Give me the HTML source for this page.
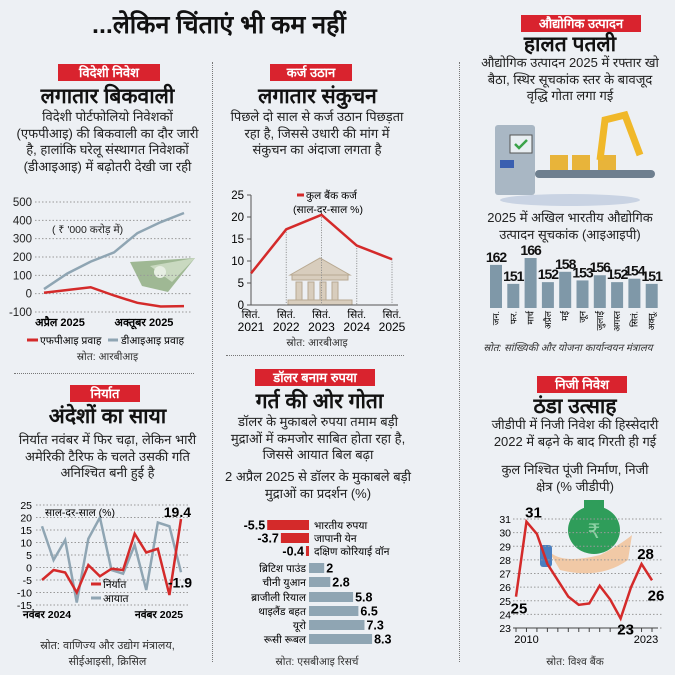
<!DOCTYPE html>
<html><head><meta charset="utf-8">
<style>
body{margin:0;width:675px;height:675px;overflow:hidden;background:#edf0f4;font-family:"Liberation Sans","Noto Sans CJK SC",sans-serif;color:#222;position:relative}
.a{position:absolute}
.tag{position:absolute;background:#d9232e;color:#fff;font-weight:bold;font-size:13px;text-align:center;line-height:17px;height:17px}
.h{position:absolute;font-weight:900;font-size:21px;text-align:center;color:#111;line-height:22px;white-space:nowrap}
.b{position:absolute;font-size:13px;text-align:center;line-height:16.5px;color:#222;white-space:nowrap}
.src{position:absolute;font-size:10.5px;text-align:center;color:#333;white-space:nowrap}
svg{position:absolute;left:0;top:0}
svg text{font-family:"Liberation Sans","Noto Sans CJK SC",sans-serif}
</style></head><body>
<div class="a" style="left:92px;top:7px;font-size:25px;font-weight:900;color:#111;white-space:nowrap">...लेकिन चिंताएं भी कम नहीं</div>

<div class="a" style="left:212px;top:62px;height:600px;border-left:1.5px dotted #777"></div>
<div class="a" style="left:459px;top:62px;height:600px;border-left:1.5px dotted #777"></div>
<div class="a" style="left:14px;top:373px;width:180px;border-top:1.5px dotted #777"></div>
<div class="a" style="left:226px;top:355px;width:178px;border-top:1.5px dotted #777"></div>

<!-- Panel 1 -->
<div class="tag" style="left:58px;top:64px;width:102px">विदेशी निवेश</div>
<div class="h" style="left:5px;top:86px;width:205px">लगातार बिकवाली</div>
<div class="b" style="left:5px;top:109px;width:205px">विदेशी पोर्टफोलियो निवेशकों<br>(एफपीआइ) की बिकवाली का दौर जारी<br>है, हालांकि घरेलू संस्थागत निवेशकों<br>(डीआइआइ) में बढ़ोतरी देखी जा रही</div>
<div class="a" style="left:52px;top:223px;font-size:10.5px">( ₹ '000 करोड़ में)</div>
<div class="src" style="left:5px;top:350px;width:205px">स्रोत: आरबीआइ</div>

<!-- Panel 2 -->
<div class="tag" style="left:270px;top:64px;width:82px">कर्ज उठान</div>
<div class="h" style="left:220px;top:86px;width:195px">लगातार संकुचन</div>
<div class="b" style="left:218px;top:109px;width:198px">पिछले दो साल से कर्ज उठान पिछड़ता<br>रहा है, जिससे उधारी की मांग में<br>संकुचन का अंदाजा लगता है</div>
<div class="src" style="left:222px;top:336px;width:190px">स्रोत: आरबीआइ</div>

<!-- Panel 3 -->
<div class="tag" style="left:521px;top:15px;width:120px">औद्योगिक उत्पादन</div>
<div class="h" style="left:470px;top:34px;width:200px">हालत पतली</div>
<div class="b" style="left:468px;top:55px;width:204px">औद्योगिक उत्पादन 2025 में रफ्तार खो<br>बैठा, स्थिर सूचकांक स्तर के बावजूद<br>वृद्धि गोता लगा गई</div>
<div class="b" style="left:468px;top:210px;width:204px">2025 में अखिल भारतीय औद्योगिक<br>उत्पादन सूचकांक (आइआइपी)</div>
<div class="src" style="left:462px;top:340px;width:212px;font-style:italic;font-size:10px">स्रोत: सांख्यिकी और योजना कार्यान्वयन मंत्रालय</div>

<!-- Panel 4 -->
<div class="tag" style="left:70px;top:385px;width:70px">निर्यात</div>
<div class="h" style="left:5px;top:406px;width:205px">अंदेशों का साया</div>
<div class="b" style="left:5px;top:432px;width:205px">निर्यात नवंबर में फिर चढ़ा, लेकिन भारी<br>अमेरिकी टैरिफ के चलते उसकी गति<br>अनिश्चित बनी हुई है</div>
<div class="src" style="left:5px;top:638px;width:205px;line-height:16px;font-size:11px">स्रोत: वाणिज्य और उद्योग मंत्रालय,<br>सीईआइसी, क्रिसिल</div>

<!-- Panel 5 -->
<div class="tag" style="left:255px;top:369px;width:120px">डॉलर बनाम रुपया</div>
<div class="h" style="left:222px;top:391px;width:195px">गर्त की ओर गोता</div>
<div class="b" style="left:216px;top:414px;width:204px">डॉलर के मुकाबले रुपया तमाम बड़ी<br>मुद्राओं में कमजोर साबित होता रहा है,<br>जिससे आयात बिल बढ़ा</div>
<div class="b" style="left:214px;top:469px;width:208px">2 अप्रैल 2025 से डॉलर के मुकाबले बड़ी<br>मुद्राओं का प्रदर्शन (%)</div>
<div class="src" style="left:222px;top:655px;width:190px">स्रोत: एसबीआइ रिसर्च</div>

<!-- Panel 6 -->
<div class="tag" style="left:537px;top:376px;width:90px">निजी निवेश</div>
<div class="h" style="left:475px;top:396px;width:200px">ठंडा उत्साह</div>
<div class="b" style="left:472px;top:417px;width:206px">जीडीपी में निजी निवेश की हिस्सेदारी<br>2022 में बढ़ने के बाद गिरती ही गई</div>
<div class="b" style="left:475px;top:462px;width:200px">कुल निश्चित पूंजी निर्माण, निजी<br>क्षेत्र (% जीडीपी)</div>
<div class="src" style="left:475px;top:655px;width:200px">स्रोत: विश्व बैंक</div>

<svg id="s" width="675" height="675" xmlns="http://www.w3.org/2000/svg">
 <g>
  <polygon points="130,262 195,258 168,292 142,286" fill="#9fb894"/>
  <polygon points="150,266 195,258 172,282" fill="#c9d9c0"/>
  <circle cx="160" cy="272" r="6" fill="#e7eee3"/>
 </g>
 <g fill="#d8cdbd" stroke="#b8a992">
  <polygon points="290,275 320,258 350,275"/>
  <rect x="292" y="275" width="56" height="5"/>
  <rect x="296" y="282" width="6" height="18"/><rect x="308" y="282" width="6" height="18"/><rect x="320" y="282" width="6" height="18"/><rect x="332" y="282" width="6" height="18"/>
  <rect x="288" y="300" width="64" height="5"/>
 </g>
 <g>
  <ellipse cx="570" cy="200" rx="70" ry="6" fill="#c9d3e3"/>
  <rect x="495" y="125" width="40" height="70" rx="3" fill="#a9b7c4"/>
  <rect x="510" y="135" width="22" height="18" fill="#e8eef2" stroke="#555"/>
  <path d="M515 144 l4 4 l8 -8" stroke="#3aa34a" stroke-width="2.5" fill="none"/>
  <rect x="500" y="160" width="14" height="8" fill="#3a5fb0"/>
  <rect x="535" y="170" width="120" height="8" rx="4" fill="#6e7f8f"/>
  <rect x="550" y="155" width="18" height="15" fill="#e8b43a"/><rect x="572" y="155" width="18" height="15" fill="#e8b43a"/><rect x="598" y="155" width="18" height="15" fill="#e8b43a"/>
  <path d="M600 160 L605 120 L625 115 L640 155" stroke="#f0b82a" stroke-width="7" fill="none"/>
 </g>
 <g>
  <path d="M548 550 Q560 565 600 555 Q620 545 632 535 L628 560 Q600 580 560 570 Z" fill="#f1c9a6"/>
  <rect x="540" y="545" width="12" height="22" rx="3" fill="#4a7fc0"/>
  <ellipse cx="594" cy="530" rx="26" ry="24" fill="#2f9d5a"/>
  <rect x="584" y="500" width="20" height="8" fill="#2f9d5a"/>
  <text x="594" y="538" font-size="20" text-anchor="middle" fill="#8ed2a5">₹</text>
 </g>
</svg>

<script>
// ---------- data ----------
const fpiMonths = ["Apr","May","Jun","Jul","Aug","Sep","Oct"];
const fpiFlow = [5, 20, 35, -10, -50, -70, -68];
const diiFlow = [25, 110, 175, 225, 330, 390, 440];
const fpiTicks = [500, 400, 300, 200, 100, 0, -100];

const creditYears = ["2021","2022","2023","2024","2025"];
const creditGrowth = [7.2, 17.2, 20.5, 13.5, 10.4];
const creditTicks = [0, 5, 10, 15, 20, 25];

const iipMonths = ["जन.","फर.","मार्च","अप्रैल","मई","जून","जुलाई","अगस्त","सितं.","अक्तू."];
const iipValues = [162, 151, 166, 152, 158, 153, 156, 152, 154, 151];

const tradeMonths = ["N24","D","J","F","M","A","M","J","J","A","S","O","N25"];
const exportsYoY = [-5, -1, -2, -10, 1, -3.5, -0.5, -1, 13.5, 6, 7.5, -11, 19.4];
const importsYoY = [16.5, 3, 11, -14, 11.5, 20, -1, -2.5, 9, -9, 18, 16.5, -1.9];
const tradeTicks = [25, 20, 15, 10, 5, 0, -5, -10, -15];

const currencies = ["भारतीय रुपया","जापानी येन","दक्षिण कोरियाई वॉन","ब्रिटिश पाउंड","चीनी युआन","ब्राजीली रियाल","थाइलैंड बहत","यूरो","रूसी रूबल"];
const currencyChange = [-5.5, -3.7, -0.4, 2, 2.8, 5.8, 6.5, 7.3, 8.3];
const currencyLabels = ["-5.5","-3.7","-0.4","2","2.8","5.8","6.5","7.3","8.3"];

const pvtYears = ["2009","2010","2011","2012","2013","2014","2015","2016","2017","2018","2019","2020","2021","2022"];
const pvtShare = [25.3, 30.8, 29.9, 27.7, 26.5, 25.3, 24.7, 24.8, 26.1, 25.1, 23.7, 26.0, 27.7, 26.5];
const pvtTicks = [23,24,25,26,27,28,29,30,31];
const pvtAnnotIdx = [0, 1, 10, 12, 13];
const pvtAnnotText = ["25", "31", "23", "28", "26"];

const svg = document.getElementById('s');
const NS = 'http://www.w3.org/2000/svg';
function mk(tag, attrs, parent){const e=document.createElementNS(NS,tag);for(const k in attrs)e.setAttribute(k,attrs[k]);(parent||svg).appendChild(e);return e;}
function txt(x,y,s,attrs){const e=mk('text',Object.assign({x:x,y:y},attrs||{}));e.textContent=s;return e;}
function lin(min,max,p0,p1){return v=>p0+(v-min)/(max-min)*(p1-p0);}

// ---------- FPI / DII chart ----------
{
 const y=lin(-100,500,312,202), x=lin(0,fpiMonths.length-1,44,184);
 fpiTicks.forEach(t=>{
  const g=mk('line',{x1:35,x2:192,y1:y(t),y2:y(t),stroke:'#999','stroke-dasharray':'1.5,2'});
  
  const l=txt(32,y(t)+4,String(t),{'font-size':11.5,'text-anchor':'end',fill:'#222'});
  
 });
 const d=mk('polyline',{points:diiFlow.map((v,i)=>x(i)+','+y(v)).join(' '),fill:'none',stroke:'#8fa5b3','stroke-width':2.5});
 
 const f=mk('polyline',{points:fpiFlow.map((v,i)=>x(i)+','+y(v)).join(' '),fill:'none',stroke:'#d42a2a','stroke-width':2.5});
 
 let a=txt(60,326,'अप्रैल 2025',{'font-size':11,'text-anchor':'middle','font-weight':'bold'});
 
 a=txt(144,326,'अक्तूबर 2025',{'font-size':11,'text-anchor':'middle','font-weight':'bold'});
 
 mk('line',{x1:27,x2:38,y1:340,y2:340,stroke:'#d42a2a','stroke-width':3});
 a=txt(40,344,'एफपीआइ प्रवाह',{'font-size':10.5});
 mk('line',{x1:108,x2:118,y1:340,y2:340,stroke:'#8fa5b3','stroke-width':3});
 a=txt(121,344,'डीआइआइ प्रवाह',{'font-size':10.5});
}

// ---------- Credit chart ----------
{
 const y=lin(0,25,305,195), x=lin(0,creditYears.length-1,251,392);
 mk('line',{x1:251,x2:251,y1:195,y2:305,stroke:'#555'});
 mk('line',{x1:247,x2:398,y1:305,y2:305,stroke:'#555'});
 creditTicks.forEach(t=>{
  mk('line',{x1:247,x2:251,y1:y(t),y2:y(t),stroke:'#555'});
  const l=txt(244,y(t)+4,String(t),{'font-size':11.5,'text-anchor':'end'});
  
 });
 creditYears.forEach((yr,i)=>{
  if(i>0){const v=mk('line',{x1:x(i),x2:x(i),y1:y(creditGrowth[i]),y2:305,stroke:'#888','stroke-dasharray':'1,1.5'});
   }
  let t=txt(x(i),318,'सितं.',{'font-size':10.5,'text-anchor':'middle'});
  
  t=txt(x(i),331,yr,{'font-size':12,'text-anchor':'middle'});
  
 });
 const p=mk('polyline',{points:creditGrowth.map((v,i)=>x(i)+','+y(v)).join(' '),fill:'none',stroke:'#d42a2a','stroke-width':2.5});
 
 mk('line',{x1:297,x2:304,y1:195,y2:195,stroke:'#d42a2a','stroke-width':3});
 let t=txt(306,199,'कुल बैंक कर्ज',{'font-size':10.5});
 t=txt(328,213,'(साल-दर-साल %)',{'font-size':10.5,'text-anchor':'middle'});
}

// ---------- IIP bars ----------
{
 const y=lin(137,166,308,258), x0=490, step=17.3, w=12;
 iipValues.forEach((v,i)=>{
  const bx=x0+i*step;
  const r=mk('rect',{x:bx,y:y(v),width:w,height:308-y(v),fill:'#7f98a8'});
  
  const l=txt(bx+w/2,y(v)-3,String(v),{'font-size':14,'font-weight':'bold','text-anchor':'middle',fill:'#111',style:'letter-spacing:-1px'});
  
  const m=txt(0,0,iipMonths[i],{'font-size':9,'text-anchor':'end',transform:'translate('+(bx+w/2+3)+',311) rotate(-90)'});
  
 });
}

// ---------- Trade chart ----------
{
 const y=lin(-15,25,605,505), x=lin(0,tradeMonths.length-1,42,181);
 tradeTicks.forEach(t=>{
  const g=mk('line',{x1:36,x2:190,y1:y(t),y2:y(t),stroke:'#999','stroke-dasharray':'1.5,2'});
  
  const l=txt(32,y(t)+4,String(t),{'font-size':10.5,'text-anchor':'end'});
  
 });
 const im=mk('polyline',{points:importsYoY.map((v,i)=>x(i)+','+y(v)).join(' '),fill:'none',stroke:'#8fa5b3','stroke-width':2.5});
 
 const ex=mk('polyline',{points:exportsYoY.map((v,i)=>x(i)+','+y(v)).join(' '),fill:'none',stroke:'#d42a2a','stroke-width':2.5});
 
 const n=tradeMonths.length-1;
 let t=txt(x(n)+10,y(exportsYoY[n])-2,String(exportsYoY[n]),{'font-size':14,'font-weight':'bold','text-anchor':'end'});
 
 t=txt(x(n)+11,y(importsYoY[n])+15,String(importsYoY[n]),{'font-size':14,'font-weight':'bold','text-anchor':'end'});
 
 t=txt(45,516,'साल-दर-साल  (%)',{'font-size':10.5});
 mk('line',{x1:91,x2:101,y1:584,y2:584,stroke:'#d42a2a','stroke-width':3});
 t=txt(103,588,'निर्यात',{'font-size':10.5});
 mk('line',{x1:91,x2:101,y1:598,y2:598,stroke:'#8fa5b3','stroke-width':3});
 t=txt(103,602,'आयात',{'font-size':10.5});
 t=txt(x(0)+5,618,'नवंबर 2024',{'font-size':10.5,'font-weight':'bold','text-anchor':'middle'});
 t=txt(x(n)-22,618,'नवंबर 2025',{'font-size':10.5,'font-weight':'bold','text-anchor':'middle'});
}

// ---------- Currency bars ----------
{
 const zero=309, scale=7.6, rowY=[520,533,546,563,577,592,606,620,634], h=10;
 currencies.forEach((c,i)=>{
  const v=currencyChange[i], w=Math.abs(v)*scale, ry=rowY[i];
  const neg=v<0;
  const r=mk('rect',{x:neg?zero-w:zero,y:ry,width:w,height:h,fill:neg?'#d42a2a':'#8fa5b3'});
  
  let vl, nl;
  if(neg){
   vl=txt(zero-w-2,ry+h-0.5,currencyLabels[i],{'font-size':12.5,'font-weight':'bold','text-anchor':'end'});
   nl=txt(zero+5,ry+h-1,c,{'font-size':10.5});
  } else {
   vl=txt(zero+w+2,ry+h-0.5,currencyLabels[i],{'font-size':12.5,'font-weight':'bold'});
   nl=txt(zero-3,ry+h-1,c,{'font-size':10.5,'text-anchor':'end'});
  }
  
  
 });
}

// ---------- Private investment ----------
{
 const y=lin(23,31,628,519), x=lin(0,pvtYears.length-1,516,652);
 pvtTicks.forEach(t=>{
  const g=mk('line',{x1:513,x2:662,y1:y(t),y2:y(t),stroke:'#999','stroke-dasharray':'1.5,2'});
  
  const l=txt(511,y(t)+4,String(t),{'font-size':10.5,'text-anchor':'end'});
  
 });
 mk('line',{x1:513,x2:658,y1:628,y2:628,stroke:'#444'});
 pvtYears.forEach((yr,i)=>{const k=mk('line',{x1:x(i),x2:x(i),y1:628,y2:632,stroke:'#444'});
  });
 let t=txt(x(1),643,'2010',{'font-size':11,'text-anchor':'middle'});
 t=txt(x(pvtYears.length-1)-6,643,'2023',{'font-size':11,'text-anchor':'middle'});
 const p=mk('polyline',{points:pvtShare.map((v,i)=>x(i)+','+y(v)).join(' '),fill:'none',stroke:'#d42a2a','stroke-width':2.5});
 
 const offs=[[3,17],[7,-4],[5,16],[4,-5],[4,20]];
 pvtAnnotIdx.forEach((idx,k)=>{const e=txt(x(idx)+offs[k][0],y(pvtShare[idx])+offs[k][1],pvtAnnotText[k],{'font-size':15,'font-weight':'bold','text-anchor':'middle'});
  });
}
</script>
</body></html>
